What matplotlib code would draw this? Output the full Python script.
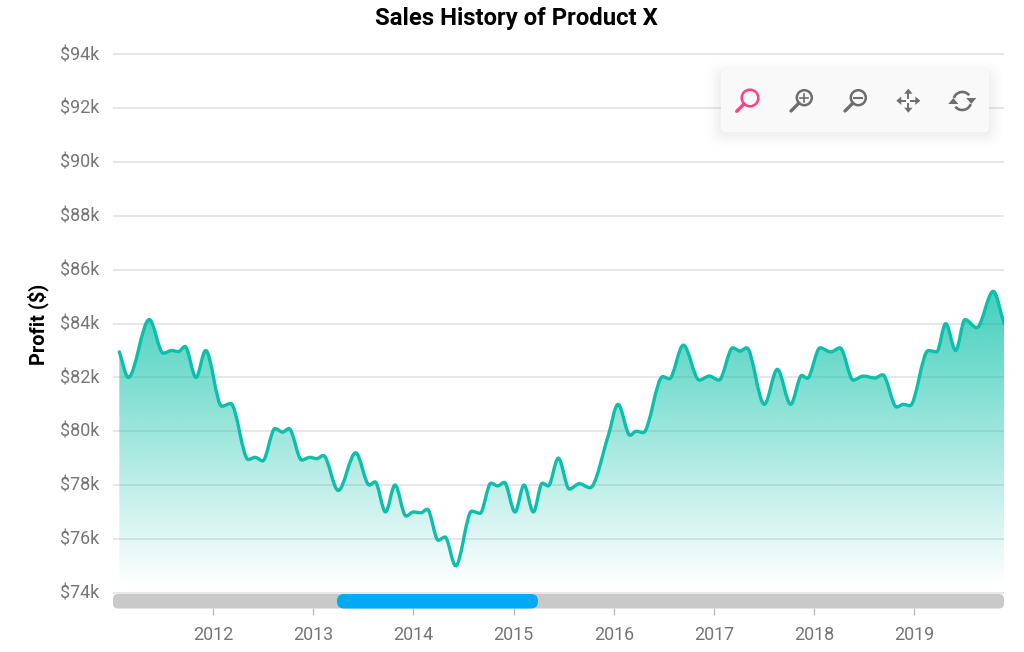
"""Sales history area chart with a zoom toolbar and range scrollbar."""
import numpy as np
import matplotlib
matplotlib.use('Agg')
import matplotlib.pyplot as plt
from matplotlib.path import Path
from matplotlib.patches import PathPatch, FancyBboxPatch, Circle, Arc, Polygon
from matplotlib.colors import to_rgb
from matplotlib.transforms import ScaledTranslation

plt.rcParams['font.family'] = ['Roboto', 'DejaVu Sans']

years = [
    2011.065, 2011.155, 2011.364, 2011.504, 2011.588, 2011.654, 2011.721, 2011.830, 2011.927,
    2012.087, 2012.177, 2012.352, 2012.419, 2012.496, 2012.619, 2012.696, 2012.758, 2012.885, 2012.968,
    2013.035, 2013.101, 2013.250, 2013.424, 2013.560, 2013.617, 2013.722, 2013.816, 2013.926, 2013.999,
    2014.073, 2014.139, 2014.248, 2014.315, 2014.422, 2014.582, 2014.665, 2014.774, 2014.841, 2014.907,
    2015.014, 2015.104, 2015.197, 2015.286, 2015.346, 2015.446, 2015.556, 2015.656, 2015.762, 2015.942,
    2016.042, 2016.162, 2016.222, 2016.294, 2016.488, 2016.554, 2016.694, 2016.853, 2016.953,
    2017.050, 2017.187, 2017.260, 2017.326, 2017.502, 2017.632, 2017.765, 2017.875, 2017.931,
    2018.058, 2018.165, 2018.257, 2018.390, 2018.490, 2018.607, 2018.683, 2018.823, 2018.889, 2018.956,
    2019.138, 2019.222, 2019.312, 2019.412, 2019.505, 2019.622, 2019.787, 2019.894,
]
profit = [
    82.95, 82.0, 84.15, 82.9, 83.0, 82.96, 83.15, 82.0, 83.0,
    80.93, 81.03, 78.95, 79.03, 78.9, 80.1, 79.97, 80.1, 78.93, 79.03,
    78.98, 79.1, 77.8, 79.2, 78.0, 78.12, 77.0, 78.0, 76.85, 77.0,
    76.97, 77.1, 75.95, 76.07, 75.0, 77.03, 76.95, 78.07, 77.97, 78.1,
    77.0, 78.0, 77.0, 78.07, 77.97, 79.0, 77.85, 78.05, 77.9, 79.8,
    81.0, 79.85, 80.0, 79.95, 82.03, 81.95, 83.2, 81.9, 82.05,
    81.9, 83.1, 82.98, 83.1, 81.0, 82.3, 81.0, 82.07, 81.97,
    83.1, 82.95, 83.1, 81.9, 82.05, 81.98, 82.1, 80.9, 81.0, 80.95,
    83.0, 82.95, 84.0, 83.0, 84.15, 83.85, 85.2, 84.0,
]
year_ticks = [2012, 2013, 2014, 2015, 2016, 2017, 2018, 2019]
profit_ticks = [74, 76, 78, 80, 82, 84, 86, 88, 90, 92, 94]

LINE = '#0bbfab'
GRID = '#e0e0e0'
TICK_TEXT = '#757575'
GREY_ICON = '#6e6e6e'
PINK = '#ff4081'


def smooth_path(xs, ys):
    """Monotone cubic through the points, as bezier segments."""
    xs = np.asarray(xs)
    ys = np.asarray(ys)
    h = np.diff(xs)
    d = np.diff(ys) / h
    m = np.zeros(len(xs))
    for i in range(1, len(xs) - 1):
        if d[i - 1] * d[i] > 0:
            w1 = 2 * h[i] + h[i - 1]
            w2 = h[i] + 2 * h[i - 1]
            m[i] = (w1 + w2) / (w1 / d[i - 1] + w2 / d[i])
    m[0] = d[0]
    m[-1] = d[-1]
    verts = [(xs[0], ys[0])]
    for i in range(len(h)):
        verts.append((xs[i] + h[i] / 3, ys[i] + m[i] * h[i] / 3))
        verts.append((xs[i + 1] - h[i] / 3, ys[i + 1] - m[i + 1] * h[i] / 3))
        verts.append((xs[i + 1], ys[i + 1]))
    return verts


fig = plt.figure(figsize=(10.24, 6.52), dpi=100)
# a little margin past 74k and 94k so the outer gridlines survive clipping
ax_top, ax_bottom = 51.8, 595.4
ax = fig.add_axes([113 / 1024, 1 - ax_bottom / 652, 891 / 1024, (ax_bottom - ax_top) / 652])

verts = smooth_path(years, profit)
codes = [Path.MOVETO] + [Path.CURVE4] * (len(verts) - 1)

# gradient fill under the curve, clipped to the area
area_verts = verts + [(years[-1], 74.0), (years[0], 74.0), (years[0], profit[0])]
area_codes = codes + [Path.LINETO, Path.LINETO, Path.CLOSEPOLY]
area = PathPatch(Path(area_verts, area_codes), fc='none', ec='none', transform=ax.transData)
ax.add_patch(area)

top_val = max(profit)
grad = np.zeros((256, 1, 4))
grad[..., :3] = to_rgb('#00bfa5')
grad[:, 0, 3] = np.linspace(0.74, 0.0, 256)
img = ax.imshow(grad, extent=(years[0], years[-1], 74.2, top_val), aspect='auto', zorder=2)
img.set_clip_path(area)

ax.add_patch(PathPatch(Path(verts, codes), fc='none', ec=LINE, lw=2.4, zorder=3,
                       capstyle='round', joinstyle='round'))

ax.set_xlim(2011.002, 2019.894)
ax.set_ylim(73.9, 94.1)
ax.set_yticks(profit_ticks)
ax.set_yticklabels([f'${v}k' for v in profit_ticks])
ax.set_xticks(year_ticks)
ax.set_xticklabels([str(y) for y in year_ticks])
ax.grid(axis='y', color=GRID, lw=1.1, zorder=1)
ax.set_axisbelow(True)
ax.tick_params(axis='y', length=0, pad=10, labelsize=12.9, labelcolor=TICK_TEXT)
ax.tick_params(axis='x', length=5, width=0.9, color='#b5b5b5', pad=8, labelsize=12.9, labelcolor=TICK_TEXT)
for lab in ax.get_yticklabels():
    lab.set_transform(lab.get_transform() + ScaledTranslation(0, 1.0 / 72, fig.dpi_scale_trans))
for name in ['top', 'right', 'left']:
    ax.spines[name].set_visible(False)
# year ticks hang below the scrollbar
ax.spines['bottom'].set_position(('outward', (608 - ax_bottom) * 0.72))
ax.spines['bottom'].set_visible(False)

fig.text(38 / 1024, 1 - 324 / 652, 'Profit ($)', rotation=90, ha='center', va='center',
         fontsize=14.4, fontweight='bold', color='black')
fig.text(516 / 1024, 1 - 18.5 / 652, 'Sales History of Product X', ha='center', va='center',
         fontsize=17.2, fontweight='bold', color='black')

# overlay in pixel coordinates for the scrollbar and the toolbar
ui = fig.add_axes([0, 0, 1, 1], facecolor='none')
ui.set_xlim(0, 1024)
ui.set_ylim(652, 0)
ui.axis('off')

ui.add_patch(FancyBboxPatch((113, 594), 891, 14.5, boxstyle='round,pad=0,rounding_size=5',
                            fc='#c9c9c9', ec='none'))
ui.add_patch(FancyBboxPatch((337, 594), 201, 14.5, boxstyle='round,pad=0,rounding_size=7',
                            fc='#03a9f4', ec='none'))

# toolbar with soft shadow
for grow, alpha in [(14, 0.006), (11, 0.008), (8, 0.01), (5, 0.012), (2, 0.015)]:
    ui.add_patch(FancyBboxPatch((721 - grow, 74 - grow), 268 + 2 * grow, 60 + 2 * grow,
                                boxstyle=f'round,pad=0,rounding_size={6 + grow}',
                                fc='black', ec='none', alpha=alpha))
ui.add_patch(FancyBboxPatch((721, 70), 268, 62, boxstyle='round,pad=0,rounding_size=5',
                            fc='#f9f9f9', ec='none'))


def magnifier(cx, cy, color, r=7.5):
    ui.add_patch(Circle((cx, cy), r, fc='none', ec=color, lw=1.8))
    s = r * 0.707
    ui.plot([cx - s, cx - 13.3], [cy + s, cy + 13.3], color=color, lw=2.4, solid_capstyle='round')


magnifier(750, 98, PINK, r=8.3)
magnifier(804.3, 97.7, GREY_ICON)
ui.plot([800.3, 808.3], [97.7, 97.7], color=GREY_ICON, lw=1.2)
ui.plot([804.3, 804.3], [93.7, 101.7], color=GREY_ICON, lw=1.2)
magnifier(858.3, 97.7, GREY_ICON)
ui.plot([854.3, 862.3], [97.7, 97.7], color=GREY_ICON, lw=1.5)

# pan icon
mx, my = 908.3, 100.7
ui.plot([mx - 9, mx - 3], [my, my], color=GREY_ICON, lw=1.4)
ui.plot([mx + 3, mx + 9], [my, my], color=GREY_ICON, lw=1.4)
ui.plot([mx, mx], [my - 9, my - 3], color=GREY_ICON, lw=1.4)
ui.plot([mx, mx], [my + 3, my + 9], color=GREY_ICON, lw=1.4)
for dx, dy in [(-1, 0), (1, 0), (0, -1), (0, 1)]:
    tip = (mx + 12 * dx, my + 12 * dy)
    a = (mx + 7 * dx + 4.2 * dy, my + 7 * dy + 4.2 * dx)
    b = (mx + 7 * dx - 4.2 * dy, my + 7 * dy - 4.2 * dx)
    ui.add_patch(Polygon([tip, a, b], fc=GREY_ICON, ec='none'))

# reset icon
rx, ry = 962.3, 101
ui.add_patch(Arc((rx, ry), 18, 18, theta1=200, theta2=320, ec=GREY_ICON, lw=1.9))
ui.add_patch(Arc((rx, ry), 18, 18, theta1=20, theta2=140, ec=GREY_ICON, lw=1.9))
ui.add_patch(Polygon([(rx + 4, ry - 3), (rx + 14, ry - 3), (rx + 9, ry + 3)], fc=GREY_ICON, ec='none'))
ui.add_patch(Polygon([(rx - 4, ry + 3), (rx - 14, ry + 3), (rx - 9, ry - 3)], fc=GREY_ICON, ec='none'))

fig.savefig('out.png', dpi=100, facecolor='white')
